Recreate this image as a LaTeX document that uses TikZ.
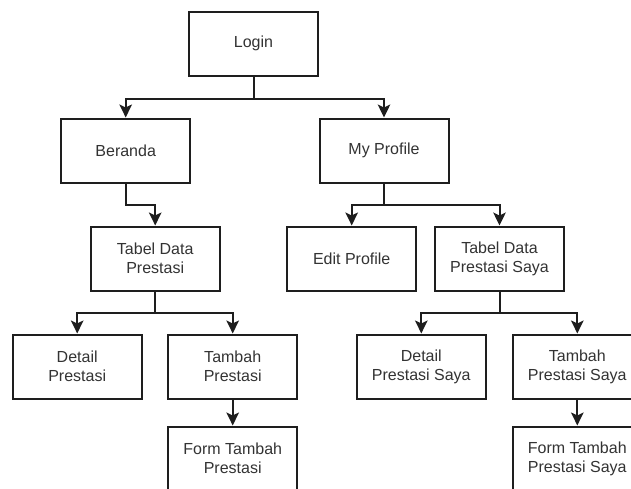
\documentclass[tikz,border=0pt]{standalone}
\usepackage{fontspec}
\setmainfont{Liberation Sans}
\usetikzlibrary{arrows.meta}
\definecolor{linec}{HTML}{1E1E1E}
\definecolor{textc}{HTML}{333333}
\begin{document}
\begin{tikzpicture}[x=1pt,y=-1pt,
  box/.style={draw=linec, line width=2pt, minimum width=129pt, minimum height=64pt,
    inner sep=0pt, align=center, text=textc, fill=white,
    font=\fontsize{16}{19.2}\selectfont},
  link/.style={draw=linec, line width=2pt,
    -{Stealth[length=13pt,width=12.5pt,inset=3pt]}},
]
\useasboundingbox (0,0) rectangle (631,488);
\clip (0,0) rectangle (631,488);

% page tree
\node[box] (login)      at (253.5,43.5)  {Login};
\node[box] (beranda)    at (125.7,150.5) {Beranda};
\node[box] (profile)    at (384,150.5)   {My Profile};
\node[box] (tabel)      at (155.2,258.5) {Tabel Data\\Prestasi};
\node[box] (edit)       at (351.7,258.5) {Edit Profile};
\node[box] (tabelsaya)  at (499.5,258.5) {Tabel Data\\Prestasi Saya};
\node[box] (detail)     at (77.2,366.5)  {Detail\\Prestasi};
\node[box] (tambah)     at (232.7,366.5) {Tambah\\Prestasi};
\node[box] (detailsaya) at (421.3,366.5) {Detail\\Prestasi Saya};
\node[box] (tambahsaya) at (577.3,366.5) {Tambah\\Prestasi Saya};
\node[box] (form)       at (232.7,458.5) {Form Tambah\\Prestasi};
\node[box] (formsaya)   at (577.3,458.5) {Form Tambah\\Prestasi Saya};

% elbow connectors
\draw[link] (login.south) -- ++(0,22) -| (beranda.north);
\draw[link] (login.south) -- ++(0,22) -| (profile.north);
\draw[link] (beranda.south) -- ++(0,21) -| (tabel.north);
\draw[link] (profile.south) -- ++(0,21) -| (edit.north);
\draw[link] (profile.south) -- ++(0,21) -| (tabelsaya.north);
\draw[link] (tabel.south) -- ++(0,21) -| (detail.north);
\draw[link] (tabel.south) -- ++(0,21) -| (tambah.north);
\draw[link] (tabelsaya.south) -- ++(0,21) -| (detailsaya.north);
\draw[link] (tabelsaya.south) -- ++(0,21) -| (tambahsaya.north);
\draw[link] (tambah) -- (form);
\draw[link] (tambahsaya) -- (formsaya);
\end{tikzpicture}
\end{document}
